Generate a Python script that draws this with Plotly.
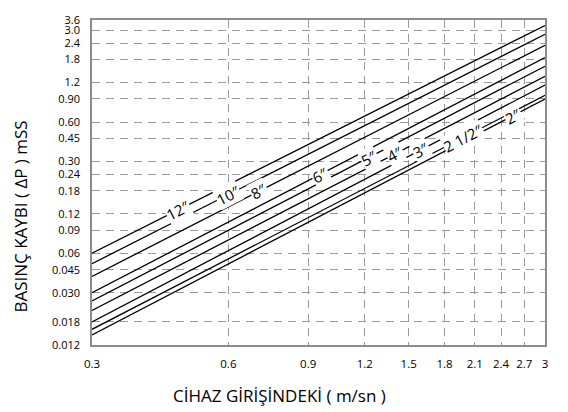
import math
import plotly.graph_objects as go

# ---- data ----
pipe_sizes = ["12\u2033", "10\u2033", "8\u2033", "6\u2033", "5\u2033", "4\u2033", "3\u2033", "2 1/2\u2033", "2\u2033"]
velocity_ends = [0.3, 3.0]
loss_at_start = [0.060, 0.050, 0.040, 0.030, 0.026, 0.022, 0.018, 0.0158, 0.0143]
loss_at_end = [3.27, 2.80, 2.31, 1.86, 1.60, 1.34, 1.15, 0.96, 0.90]
label_velocity = [0.465, 0.60, 0.700, 0.955, 1.225, 1.397, 1.597, 1.977, 2.55]

x_tickvals = [0.3, 0.6, 0.9, 1.2, 1.5, 1.8, 2.1, 2.4, 2.7, 3.0]
x_ticktext = ["0.3", "0.6", "0.9", "1.2", "1.5", "1.8", "2.1", "2.4", "2.7", "3"]
y_tickvals = [0.012, 0.018, 0.030, 0.045, 0.06, 0.09, 0.12, 0.18, 0.24, 0.30,
              0.45, 0.60, 0.90, 1.2, 1.8, 2.4, 3.0, 3.6]
y_ticktext = ["0.012", "0.018", "0.030", "0.045", "0.06", "0.09", "0.12", "0.18", "0.24", "0.30",
              "0.45", "0.60", "0.90", "1.2", "1.8", "2.4", "3.0", "3.6"]

# ---- layout geometry ----
W, H = 568, 412
ML, MR, MT, MB = 92, 23, 16, 67
PW, PH = W - ML - MR, H - MT - MB
XLO, XHI = math.log10(0.3), math.log10(3.0)
YLO, YHI = math.log10(0.012), math.log10(3.6)
FONT = "Open Sans"

fig = go.Figure()
for name, y0, y1 in zip(pipe_sizes, loss_at_start, loss_at_end):
    fig.add_trace(go.Scatter(x=velocity_ends, y=[y0, y1], mode="lines",
                             line=dict(color="black", width=1.3),
                             name=name, showlegend=False, hoverinfo="skip"))

px_x = PW / (XHI - XLO)
px_y = PH / (YHI - YLO)
for name, y0, y1, lx in zip(pipe_sizes, loss_at_start, loss_at_end, label_velocity):
    s = (math.log10(y1) - math.log10(y0)) / (XHI - XLO)
    ly = 10 ** (math.log10(y0) + s * (math.log10(lx) - XLO))
    ang = math.degrees(math.atan(s * px_y / px_x))
    fig.add_annotation(x=math.log10(lx), y=math.log10(ly), xref="x", yref="y",
                       text=name, showarrow=False, textangle=-ang,
                       xanchor="center", yanchor="middle",
                       bgcolor="white", borderpad=0,
                       font=dict(family=FONT, size=15, color="black"))

grid = dict(showgrid=True, gridcolor="#9a9a9a", gridwidth=1, griddash="8px,6px")
fig.update_xaxes(type="log", range=[XLO, XHI], tickvals=x_tickvals, ticktext=x_ticktext,
                 showline=True, linecolor="#8c8c8c", linewidth=1.5, mirror=True,
                 ticks="", ticklabelstandoff=7, zeroline=False,
                 tickfont=dict(family=FONT, size=11.5, color="black"), **grid)
fig.update_yaxes(type="log", range=[YLO, YHI], tickvals=y_tickvals, ticktext=y_ticktext,
                 showline=True, linecolor="#8c8c8c", linewidth=1.5, mirror=True,
                 ticks="", ticklabelstandoff=8, zeroline=False,
                 tickfont=dict(family=FONT, size=11, color="black"), **grid)

fig.add_annotation(xref="paper", yref="paper", x=(21 - ML) / PW, y=(H - MB - 215) / PH,
                   xanchor="center", yanchor="middle",
                   text="BASINÇ KAYBI ( ΔP ) mSS", textangle=-90, showarrow=False,
                   font=dict(family=FONT, size=17, color="black"))
fig.add_annotation(xref="paper", yref="paper", x=(279 - ML) / PW, y=(H - MB - 396) / PH,
                   xanchor="center", yanchor="middle",
                   text="CİHAZ GİRİŞİNDEKİ ( m/sn )", showarrow=False,
                   font=dict(family=FONT, size=17, color="black"))

fig.update_layout(width=W, height=H, margin=dict(l=ML, r=MR, t=MT, b=MB),
                  plot_bgcolor="white", paper_bgcolor="white",
                  font=dict(family=FONT, color="black"))
fig.write_html("out.html", config={"displayModeBar": False},
               post_script="document.body.style.margin='0';")
